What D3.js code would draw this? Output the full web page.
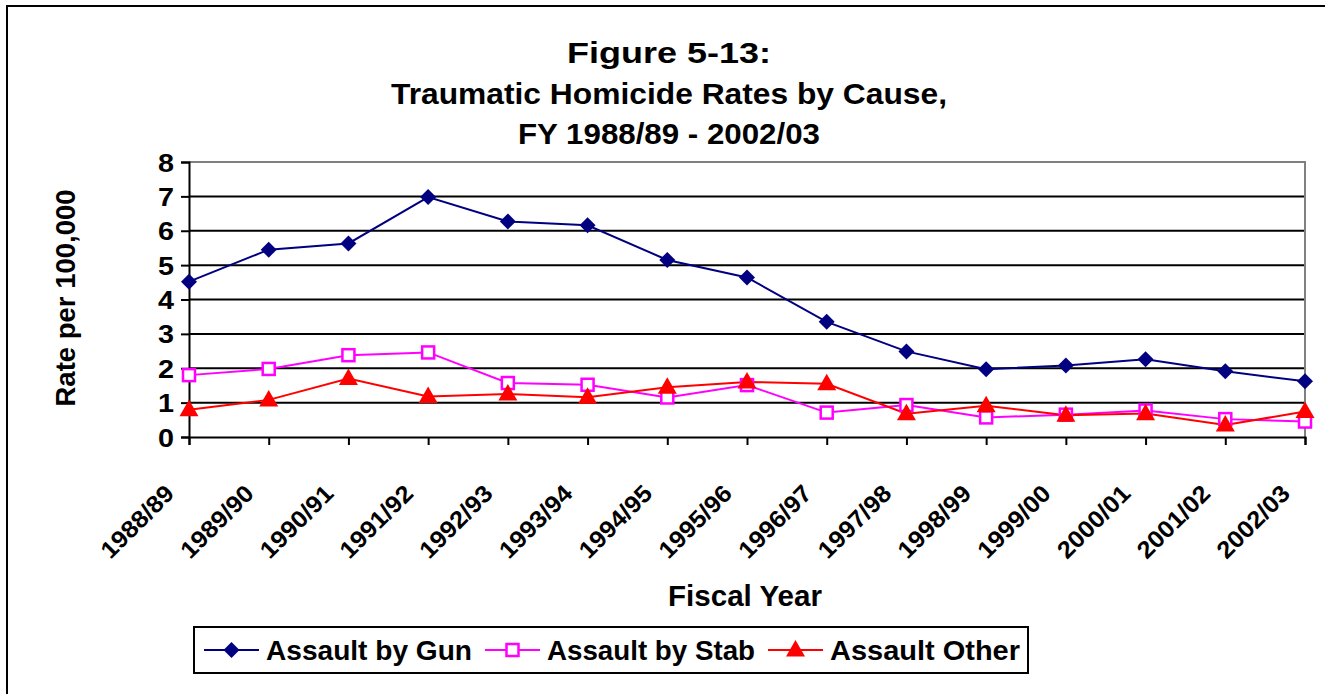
<!DOCTYPE html>
<html><head><meta charset="utf-8">
<script src="https://cdn.jsdelivr.net/npm/d3@7"></script>
<style>
html,body{margin:0;padding:0;background:#fff;}
text{font-family:"Liberation Sans",Arial,sans-serif;font-weight:bold;fill:#000;}
</style></head>
<body><svg id="c" width="1325" height="694"></svg>
<script>
const categories = ["1988/89","1989/90","1990/91","1991/92","1992/93","1993/94","1994/95","1995/96","1996/97","1997/98","1998/99","1999/00","2000/01","2001/02","2002/03"];
const gunValues   = [4.52,5.45,5.63,6.98,6.27,6.16,5.15,4.64,3.35,2.49,1.97,2.08,2.26,1.91,1.62];
const stabValues  = [1.80,1.98,2.38,2.46,1.57,1.52,1.15,1.51,0.71,0.93,0.57,0.65,0.77,0.52,0.45];
const otherValues = [0.79,1.08,1.70,1.18,1.25,1.16,1.45,1.60,1.55,0.68,0.91,0.63,0.68,0.35,0.74];
const yTicks = [0,1,2,3,4,5,6,7,8];
const seriesNames = ["Assault by Gun","Assault by Stab","Assault Other"];
const titleLines = ["Figure 5-13:","Traumatic Homicide Rates by Cause,","FY 1988/89 - 2002/03"];

const svg = d3.select("#c");
svg.append("rect").attr("x",7).attr("y",6).attr("width",1340).attr("height",720)
  .attr("fill","none").attr("stroke","#000").attr("stroke-width",2);

const L=189, R=1305, T=162, B=437;
const x = d3.scalePoint().domain(categories).range([L,R]);
const y = d3.scaleLinear().domain([0,8]).range([B,T]);

// title
const titleW = [204, 556, 302];
svg.append("g").selectAll("text").data(titleLines).join("text")
  .attr("x",669).attr("y",(d,i)=>63+i*40.5).attr("text-anchor","middle")
  .attr("textLength",(d,i)=>titleW[i]).attr("lengthAdjust","spacingAndGlyphs")
  .style("font-size","30px").text(d=>d);

// gridlines
svg.append("g").selectAll("line").data(yTicks.filter(v=>v>0&&v<8)).join("line")
  .attr("x1",L).attr("x2",R).attr("y1",d=>y(d)).attr("y2",d=>y(d))
  .attr("stroke","#000").attr("stroke-width",2);
svg.append("path").attr("d",`M${L},${y(8)}H${R}V${B}`).attr("fill","none").attr("stroke","#808080").attr("stroke-width",2);

// y axis
const yAxis = d3.axisLeft(y).tickValues(yTicks).tickSize(8).tickPadding(7).tickFormat(d3.format("d"));
const gy = svg.append("g").attr("transform",`translate(${L},0)`).call(yAxis);
gy.select(".domain").attr("stroke","#000").attr("stroke-width",2);
gy.selectAll(".tick line").attr("stroke","#000").attr("stroke-width",2);
gy.selectAll(".tick text").style("font-size","25px").attr("dy","0.36em")
  .attr("textLength",16).attr("lengthAdjust","spacingAndGlyphs")
  .style("font-family","'Liberation Sans',Arial,sans-serif").style("font-weight","bold");

// x axis
const xAxis = d3.axisBottom(x).tickSize(8).tickPadding(0);
const gx = svg.append("g").attr("transform",`translate(0,${B})`).call(xAxis);
gx.select(".domain").attr("stroke","#000").attr("stroke-width",2);
gx.selectAll(".tick line").attr("stroke","#000").attr("stroke-width",2);
gx.selectAll(".tick text").style("font-size","24px").attr("text-anchor","end")
  .style("font-family","'Liberation Sans',Arial,sans-serif").style("font-weight","bold")
  .attr("y",0).attr("dy",0)
  .attr("textLength",92).attr("lengthAdjust","spacingAndGlyphs")
  .attr("transform","translate(-14,58) rotate(-45)");

// axis titles
svg.append("text").attr("x",745).attr("y",606).attr("text-anchor","middle").style("font-size","29px")
  .attr("textLength",154).attr("lengthAdjust","spacingAndGlyphs").text("Fiscal Year");
svg.append("text").attr("transform","translate(75,298) rotate(-90)").attr("text-anchor","middle").style("font-size","28px")
  .attr("textLength",217).attr("lengthAdjust","spacingAndGlyphs").text("Rate per 100,000");

const colors = ["#000080","#FF00FF","#FF0000"];
const data = [gunValues, stabValues, otherValues];
const line = d3.line().x((d,i)=>x(categories[i])).y(d=>y(d));

function marker(g, k, cx, cy){
  if(k===0){
    g.append("path").attr("d",`M${cx},${cy-8}L${cx+8},${cy}L${cx},${cy+8}L${cx-8},${cy}Z`).attr("fill",colors[0]);
  } else if(k===1){
    g.append("rect").attr("x",cx-6).attr("y",cy-6).attr("width",12).attr("height",12)
      .attr("fill","#fff").attr("stroke",colors[1]).attr("stroke-width",2.5);
  } else {
    g.append("path").attr("d",`M${cx},${cy-10}L${cx+9.5},${cy+6.5}L${cx-9.5},${cy+6.5}Z`).attr("fill",colors[2]);
  }
}

data.forEach((vals,k)=>{
  svg.append("path").datum(vals).attr("d",line).attr("fill","none").attr("stroke",colors[k]).attr("stroke-width",2);
});
data.forEach((vals,k)=>{
  const g = svg.append("g");
  vals.forEach((v,i)=>marker(g,k,x(categories[i]),y(v)));
});

// legend
const lg = svg.append("g");
lg.append("rect").attr("x",194).attr("y",627).attr("width",834).attr("height",46).attr("fill","#fff").attr("stroke","#000").attr("stroke-width",2);
const legX = [204,485,768];
const legW = [206,208,190];
seriesNames.forEach((n,k)=>{
  const lx = legX[k];
  lg.append("line").attr("x1",lx).attr("x2",lx+55).attr("y1",650).attr("y2",650).attr("stroke",colors[k]).attr("stroke-width",2);
  marker(lg,k,lx+27.5,650);
  lg.append("text").attr("x",lx+62).attr("y",660).style("font-size","27px")
    .attr("textLength",legW[k]).attr("lengthAdjust","spacingAndGlyphs").text(n);
});
</script></body></html>
